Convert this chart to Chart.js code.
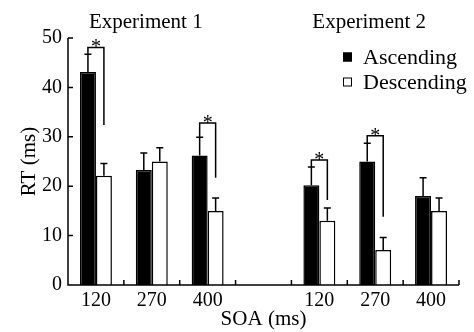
<!DOCTYPE html>
<html>
<head>
<meta charset="utf-8">
<script src="https://cdn.jsdelivr.net/npm/chart.js@4"></script>
<style>
  html, body { margin: 0; padding: 0; background: #fff; }
  #wrap { width: 474px; height: 332px; }
</style>
</head>
<body>
<div id="wrap"><canvas id="chart" width="474" height="332"></canvas></div>
<script>
// ---- data ----
const soaLabels = ['120', '270', '400', '', '120', '270', '400'];
const ascending = [43.1, 23.3, 26.2, null, 20.2, 25.0, 18.0];
const descending = [22.1, 25.0, 15.0, null, 13.0, 7.1, 15.0];
const ascendingErr = [3.6, 3.4, 3.7, null, 3.7, 3.7, 3.7];
const descendingErr = [2.5, 2.8, 2.6, null, 2.6, 2.5, 2.6];
// significance brackets: top of bracket and bottom of right leg (RT units)
const bracketTop = [48.1, null, 32.8, null, 25.3, 30.2, null];
const bracketLow = [32.4, null, 21.7, null, 17.2, 13.8, null];
const experiments = [{ label: 'Experiment 1', at: 1 }, { label: 'Experiment 2', at: 5 }];

const FONT = '"Liberation Serif", "Times New Roman", serif';

const decorations = {
    id: 'decorations',
    afterDatasetsDraw(chart) {
        const ctx = chart.ctx;
        const x = chart.scales.x, y = chart.scales.y;
        const area = chart.chartArea;
        const ascMeta = chart.getDatasetMeta(0), descMeta = chart.getDatasetMeta(1);
        ctx.save();
        ctx.strokeStyle = '#000';
        ctx.fillStyle = '#000';
        ctx.lineWidth = 1.5;

        // error bars (upper only, capped)
        const errs = [ascendingErr, descendingErr];
        const vals = [ascending, descending];
        [ascMeta, descMeta].forEach((meta, d) => {
            meta.data.forEach((bar, i) => {
                if (vals[d][i] == null) return;
                const top = y.getPixelForValue(vals[d][i] + errs[d][i]);
                ctx.beginPath();
                ctx.moveTo(bar.x, bar.y);
                ctx.lineTo(bar.x, top);
                ctx.moveTo(bar.x - 3.5, top);
                ctx.lineTo(bar.x + 3.5, top);
                ctx.stroke();
            });
        });

        // significance brackets
        ctx.font = '20px ' + FONT;
        ctx.textAlign = 'center';
        ctx.textBaseline = 'alphabetic';
        bracketTop.forEach((t, i) => {
            if (t == null) return;
            const xl = ascMeta.data[i].x, xr = descMeta.data[i].x;
            const yt = y.getPixelForValue(t);
            ctx.beginPath();
            ctx.moveTo(xl, y.getPixelForValue(ascending[i] + ascendingErr[i]));
            ctx.lineTo(xl, yt);
            ctx.lineTo(xr, yt);
            ctx.lineTo(xr, y.getPixelForValue(bracketLow[i]));
            ctx.stroke();
            ctx.fillText('*', (xl + xr) / 2, yt + 6);
        });

        // axes with inward ticks
        ctx.beginPath();
        ctx.moveTo(area.left, area.top);
        ctx.lineTo(area.left, area.bottom);
        ctx.lineTo(area.right, area.bottom);
        y.ticks.forEach(t => {
            const py = y.getPixelForValue(t.value);
            ctx.moveTo(area.left, py);
            ctx.lineTo(area.left + 5, py);
        });
        for (let i = 0; i < soaLabels.length; i++) {
            const px = i < soaLabels.length - 1
                ? (x.getPixelForValue(i) + x.getPixelForValue(i + 1)) / 2
                : area.right;
            ctx.moveTo(px, area.bottom);
            ctx.lineTo(px, area.bottom - 5);
        }
        ctx.stroke();

        // experiment headings
        ctx.font = '21px ' + FONT;
        ctx.textBaseline = 'middle';
        experiments.forEach(e => {
            ctx.fillText(e.label, x.getPixelForValue(e.at) - 6, area.top - 16);
        });

        // legend
        ctx.font = '22px ' + FONT;
        ctx.textAlign = 'left';
        const lx = area.right - 116, ly = area.top + 19;
        [['Ascending', '#000'], ['Descending', '#fff']].forEach(([name, fill], k) => {
            const by = ly + k * 25;
            ctx.fillStyle = fill;
            ctx.fillRect(lx, by - 4.5, 9, 9);
            ctx.lineWidth = 1;
            ctx.strokeRect(lx + 0.5, by - 4, 8, 8);
            ctx.fillStyle = '#000';
            ctx.fillText(name, lx + 20, by + 1);
        });
        ctx.restore();
    }
};

new Chart(document.getElementById('chart'), {
    type: 'bar',
    data: {
        labels: soaLabels,
        datasets: [
            { label: 'Ascending', data: ascending, backgroundColor: '#000', borderColor: '#000', borderWidth: 1.5 },
            { label: 'Descending', data: descending, backgroundColor: '#fff', borderColor: '#000', borderWidth: 1.5 }
        ]
    },
    options: {
        responsive: false,
        animation: false,
        layout: { padding: { top: 38, right: 15, left: 0, bottom: 0 } },
        datasets: { bar: { categoryPercentage: 0.572, barPercentage: 1.0 } },
        plugins: { legend: { display: false }, tooltip: { enabled: false } },
        scales: {
            x: {
                grid: { display: false, drawTicks: false },
                border: { display: false },
                ticks: { color: '#000', font: { family: FONT, size: 20 }, padding: 4, maxRotation: 0, autoSkip: false },
                title: { display: true, text: 'SOA (ms)', color: '#000', font: { family: FONT, size: 21 }, padding: { top: 0, bottom: 0 } },
                afterFit(s) { s.height = 47; }
            },
            y: {
                min: 0, max: 50,
                grid: { display: false, drawTicks: false },
                border: { display: false },
                ticks: { stepSize: 10, color: '#000', font: { family: FONT, size: 20 }, padding: 6 },
                title: { display: true, text: 'RT (ms)', color: '#000', font: { family: FONT, size: 21 }, padding: { top: 17, bottom: 0 } },
                afterFit(s) { s.width = 68; }
            }
        }
    },
    plugins: [decorations]
});
</script>
</body>
</html>
